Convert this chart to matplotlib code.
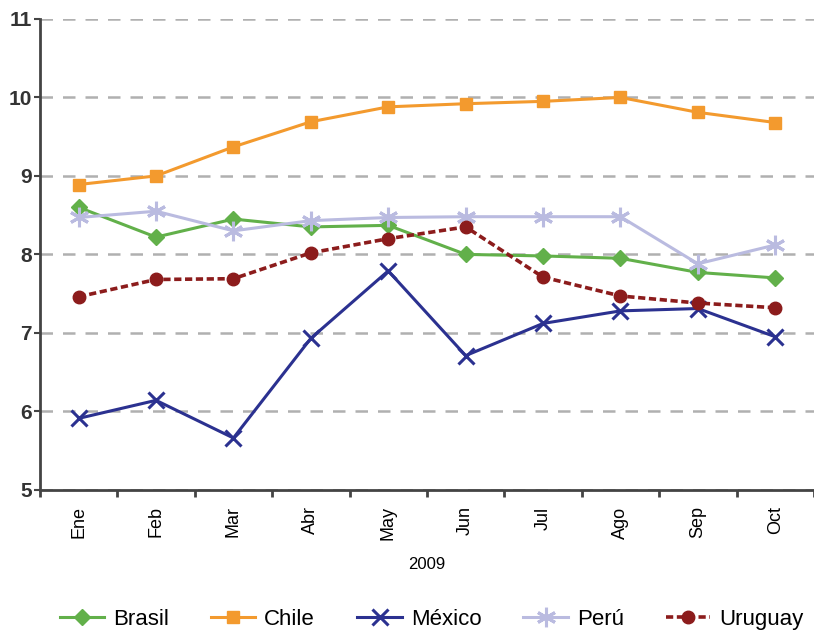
import numpy as np
import matplotlib.pyplot as plt

plt.rcParams["font.family"] = ["Liberation Sans", "DejaVu Sans"]

meses = ["Ene", "Feb", "Mar", "Abr", "May", "Jun", "Jul", "Ago", "Sep", "Oct"]
brasil = [8.60, 8.22, 8.45, 8.35, 8.37, 8.00, 7.98, 7.95, 7.77, 7.70]
chile = [8.89, 9.00, 9.37, 9.69, 9.88, 9.92, 9.95, 10.00, 9.81, 9.68]
mexico = [5.91, 6.14, 5.66, 6.93, 7.79, 6.71, 7.12, 7.28, 7.31, 6.95]
peru = [8.47, 8.55, 8.30, 8.43, 8.47, 8.48, 8.48, 8.48, 7.88, 8.12]
uruguay = [7.46, 7.68, 7.69, 8.02, 8.20, 8.35, 7.71, 7.47, 7.38, 7.32]

fig = plt.figure(figsize=(8.14, 6.32), dpi=100)
ax = fig.add_axes([0.049, 0.225, 0.951, 0.745])
x = np.arange(len(meses))

ax.plot(x, brasil, color="#62b04a", lw=2.2, marker="D", ms=8, label="Brasil")
ax.plot(x, chile, color="#f39a2e", lw=2.2, marker="s", ms=9, label="Chile")
ax.plot(x, mexico, color="#2b3190", lw=2.2, marker="x", ms=12, mew=2.2, label="México")
ax.plot(x, peru, color="#babbe0", lw=2.2, marker=(6, 2, 0), ms=14, mew=2.2, label="Perú")
ax.plot(x, uruguay, color="#8c1c1c", lw=2.6, ls=(0, (2.0, 1.0)), marker="o", ms=9,
        label="Uruguay")

ax.set_ylim(5, 11)
ax.set_xlim(-0.5, 9.5)
ax.set_yticks(range(5, 12))
ax.set_xticks(x)
ax.set_xticklabels(meses, rotation=90, fontsize=13)
ax.set_xticks(np.arange(-0.5, 10, 1), minor=True)
ax.tick_params(axis="x", which="major", length=0, pad=12)
ax.tick_params(axis="x", which="minor", length=5, width=2, color="#444444")
ax.tick_params(axis="y", length=4, width=1.5, color="#444444", labelsize=15, pad=2)
for t in ax.get_yticklabels():
    t.set_fontweight("bold")
    t.set_color("#333333")

ax.grid(axis="y", ls=(0, (5, 4)), color="#b0b0b0", lw=1.8)
ax.set_axisbelow(True)
for s in ["top", "right"]:
    ax.spines[s].set_visible(False)
for s in ["left", "bottom"]:
    ax.spines[s].set_linewidth(2)
    ax.spines[s].set_color("#444444")

ax.set_xlabel("2009", fontsize=12, labelpad=12)
ax.legend(loc="upper center", bbox_to_anchor=(0.506, -0.21), ncol=5, frameon=False,
          fontsize=16, handlelength=2.0, columnspacing=1.9, handletextpad=0.4)

fig.savefig("out.png")
